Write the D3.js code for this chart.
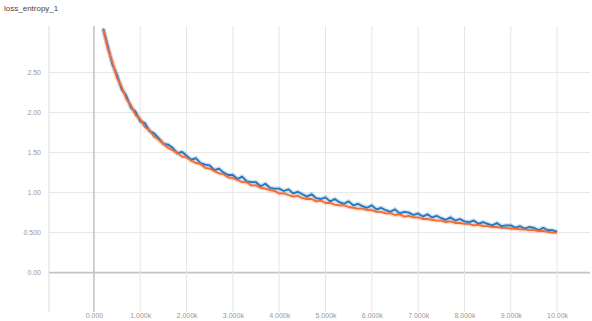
<!DOCTYPE html>
<html><head><meta charset="utf-8">
<script src="https://cdn.jsdelivr.net/npm/d3@7"></script>
<style>html,body{margin:0;padding:0;background:#fff;}svg{display:block;font-family:"Liberation Sans",Arial,sans-serif;}</style>
</head><body>
<svg id="c" width="592" height="321"></svg>
<script>
const title = "loss_entropy_1";
const steps = [0.2,0.3,0.4,0.5,0.6,0.7,0.8,0.9,1.0,1.1,1.2,1.3,1.4,1.5,1.6,1.7,1.8,1.9,2.0,2.1,2.2,2.3,2.4,2.5,2.6,2.7,2.8,2.9,3.0,3.1,3.2,3.3,3.4,3.5,3.6,3.7,3.8,3.9,4.0,4.1,4.2,4.3,4.4,4.5,4.6,4.7,4.8,4.9,5.0,5.1,5.2,5.3,5.4,5.5,5.6,5.7,5.8,5.9,6.0,6.1,6.2,6.3,6.4,6.5,6.6,6.7,6.8,6.9,7.0,7.1,7.2,7.3,7.4,7.5,7.6,7.7,7.8,7.9,8.0,8.1,8.2,8.3,8.4,8.5,8.6,8.7,8.8,8.9,9.0,9.1,9.2,9.3,9.4,9.5,9.6,9.7,9.8,9.9,10.0];
const blueValues = [3.05,2.83,2.60,2.47,2.29,2.21,2.06,2.01,1.89,1.87,1.77,1.74,1.68,1.61,1.60,1.56,1.49,1.51,1.46,1.41,1.43,1.37,1.35,1.34,1.28,1.30,1.25,1.22,1.22,1.17,1.20,1.14,1.13,1.13,1.08,1.11,1.06,1.05,1.05,1.02,1.04,0.99,1.01,0.98,0.95,0.98,0.93,0.92,0.94,0.89,0.92,0.88,0.86,0.89,0.84,0.86,0.83,0.81,0.84,0.79,0.81,0.78,0.76,0.79,0.74,0.76,0.75,0.72,0.74,0.70,0.73,0.69,0.71,0.68,0.66,0.69,0.65,0.67,0.64,0.63,0.65,0.61,0.63,0.61,0.59,0.62,0.58,0.59,0.59,0.56,0.58,0.55,0.57,0.56,0.53,0.56,0.53,0.53,0.51];
const orangeValues = [3.04,2.80,2.63,2.43,2.32,2.17,2.09,1.97,1.92,1.82,1.78,1.70,1.66,1.61,1.56,1.53,1.50,1.45,1.44,1.40,1.37,1.36,1.31,1.30,1.27,1.24,1.23,1.19,1.18,1.16,1.13,1.13,1.09,1.09,1.06,1.05,1.03,1.02,0.99,0.99,0.97,0.95,0.96,0.93,0.92,0.92,0.89,0.90,0.87,0.87,0.85,0.84,0.84,0.82,0.81,0.80,0.80,0.78,0.78,0.76,0.76,0.74,0.74,0.72,0.73,0.70,0.71,0.69,0.69,0.67,0.67,0.66,0.65,0.65,0.63,0.64,0.62,0.62,0.61,0.61,0.59,0.60,0.58,0.58,0.57,0.57,0.56,0.56,0.55,0.55,0.54,0.54,0.53,0.53,0.52,0.52,0.51,0.50,0.50];
const xTicks = [0,1,2,3,4,5,6,7,8,9,10];
const xTickLabels = ["0.000","1.000k","2.000k","3.000k","4.000k","5.000k","6.000k","7.000k","8.000k","9.000k","10.00k"];
const yTicks = [0,0.5,1,1.5,2,2.5];
const yTickLabels = ["0.00","0.500","1.00","1.50","2.00","2.50"];

const svg = d3.select("#c");
const x = d3.scaleLinear().domain([-0.97, 10.71]).range([49, 590]);
const y = d3.scaleLinear().domain([-0.48, 3.1]).range([311, 24.6]);

svg.append("text").attr("x", 4).attr("y", 11).attr("font-size", 8).attr("fill", "#444").text(title);

const g = svg.append("g");
g.selectAll(".hy").data(yTicks).join("line")
  .attr("x1", 49).attr("x2", 590).attr("y1", d => y(d)).attr("y2", d => y(d))
  .attr("stroke", d => d === 0 ? "#c4c4c4" : "#e6e6e6").attr("stroke-width", d => d === 0 ? 1.6 : 1);
g.selectAll(".vx").data(xTicks).join("line")
  .attr("y1", 26).attr("y2", 312).attr("x1", d => x(d)).attr("x2", d => x(d))
  .attr("stroke", d => d === 0 ? "#c4c4c4" : "#e6e6e6").attr("stroke-width", d => d === 0 ? 1.6 : 1);
g.append("line").attr("x1", 49).attr("x2", 49).attr("y1", 26).attr("y2", 312).attr("stroke", "#dcdcdc");

const yAxis = d3.axisLeft(y).tickValues(yTicks).tickSize(0).tickFormat((d, i) => yTickLabels[i]);
svg.append("g").attr("transform", "translate(44,0)").call(yAxis)
  .call(a => a.select(".domain").remove())
  .call(a => a.selectAll("text").attr("font-size", 7).attr("fill", "#999").attr("font-family", "Liberation Sans, Arial, sans-serif"));

const xAxis = d3.axisBottom(x).tickValues(xTicks).tickSize(0).tickFormat((d, i) => xTickLabels[i]);
svg.append("g").attr("transform", "translate(0,310)").call(xAxis)
  .call(a => a.select(".domain").remove())
  .call(a => a.selectAll("text").attr("font-size", 7).attr("fill", "#999").attr("font-family", "Liberation Sans, Arial, sans-serif"));

const line = d3.line().x((d, i) => x(steps[i])).y(d => y(d));
const series = [
  {vals: blueValues, color: "#1f78c0"},
  {vals: orangeValues, color: "#f36a32"}
];
series.forEach(s => {
  svg.append("path").datum(s.vals).attr("d", line).attr("fill", "none")
    .attr("stroke", s.color).attr("stroke-opacity", 0.22).attr("stroke-width", 4.5);
});
series.forEach(s => {
  svg.append("path").datum(s.vals).attr("d", line).attr("fill", "none")
    .attr("stroke", s.color).attr("stroke-width", 1.8).attr("stroke-linejoin", "round");
});
</script>
</body></html>
